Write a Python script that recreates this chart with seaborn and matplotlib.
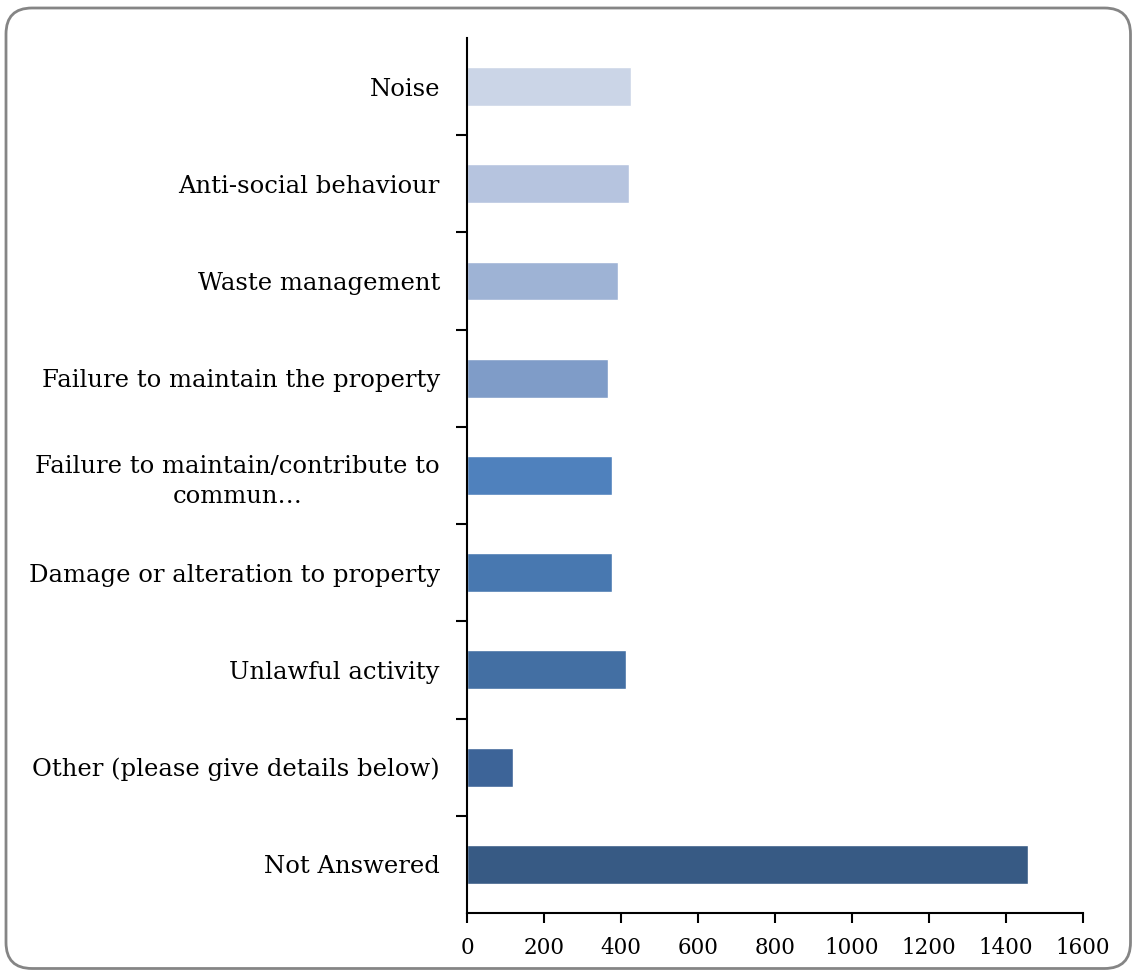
import matplotlib
matplotlib.use("Agg")
import matplotlib.pyplot as plt
from matplotlib.patches import FancyBboxPatch
from matplotlib.transforms import IdentityTransform
import seaborn as sns
import pandas as pd

categories = [
    "Noise",
    "Anti-social behaviour",
    "Waste management",
    "Failure to maintain the property",
    "Failure to maintain/contribute to\ncommun…",
    "Damage or alteration to property",
    "Unlawful activity",
    "Other (please give details below)",
    "Not Answered",
]
counts = [426, 421, 392, 366, 377, 377, 413, 119, 1456]
bar_colors = [
    "#CBD5E7", "#B6C4DF", "#9EB3D5", "#7F9CC8", "#4F81BD",
    "#4878B0", "#436FA3", "#3D6498", "#375A84",
]
x_ticks = [0, 200, 400, 600, 800, 1000, 1200, 1400, 1600]

df = pd.DataFrame({"category": categories, "count": counts})

sns.set_theme(style="white")
plt.rcParams["font.family"] = ["DejaVu Serif"]
plt.rcParams["text.color"] = "black"
plt.rcParams["xtick.color"] = "black"
plt.rcParams["ytick.color"] = "black"

fig = plt.figure(figsize=(11.32, 9.71), dpi=100)
ax = fig.add_axes([467 / 1132, 1 - 913 / 971, (1083 - 467) / 1132, (913 - 38) / 971])

sns.barplot(data=df, x="count", y="category", hue="category",
            palette=bar_colors, orient="h", width=0.4, legend=False,
            saturation=1, ax=ax)

ax.set_xlim(0, 1600)
ax.set_ylim(len(categories) - 0.5, -0.5)
ax.set_xticks(x_ticks)
ax.set_xticklabels([str(t) for t in x_ticks], fontsize=15.5)
ax.set_xlabel("")
ax.set_ylabel("")
ax.set_yticks(range(len(categories)))
ax.set_yticklabels(categories, fontsize=17.5, multialignment="center",
                   linespacing=1.4)
ax.set_yticks([i + 0.5 for i in range(len(categories) - 1)], minor=True)

ax.tick_params(axis="y", which="major", length=0, pad=19.5)
ax.tick_params(axis="y", which="minor", length=8, width=1.5, color="black",
               direction="out", left=True)
ax.tick_params(axis="x", which="major", length=7, width=1.5, color="black",
               direction="out", bottom=True, pad=10)

for side in ("top", "right"):
    ax.spines[side].set_visible(False)
for side in ("left", "bottom"):
    ax.spines[side].set_color("black")
    ax.spines[side].set_linewidth(1.5)

# rounded outer frame, laid out in pixel units and kept inside the canvas
frame = FancyBboxPatch((6, 2.5), 1124.5, 960.5,
                       boxstyle="round,pad=0,rounding_size=26",
                       transform=IdentityTransform(), facecolor="none",
                       edgecolor="#858585", linewidth=2, clip_on=False)
fig.patches.append(frame)

fig.savefig("out.png", dpi=100)
